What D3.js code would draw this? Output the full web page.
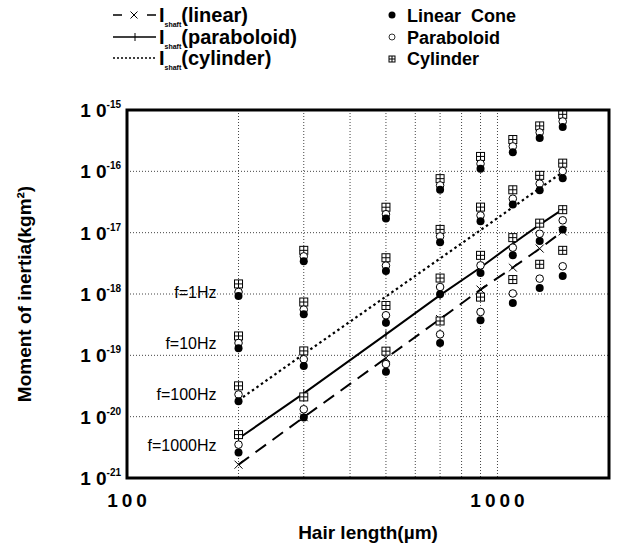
<html>
<head>
<script src="https://cdn.jsdelivr.net/npm/d3@7"></script>
<style>
  body { margin: 0; background: #fff; }
  text { font-family: "Liberation Sans", Arial, Helvetica, sans-serif; }
</style>
</head>
<body>
<script>
var width = 618, height = 547;
var margin = {top: 110, right: 9, bottom: 69, left: 127};

// hair length (um)
var hairLength = [200, 300, 500, 700, 900, 1100, 1300, 1500];
var freqLabels = ["f=1Hz", "f=10Hz", "f=100Hz", "f=1000Hz"];

// rows: f = 1, 10, 100, 1000 Hz
var cylinder = [
  [1.46e-18, 5.15e-18, 2.6e-17, 7.6e-17, 1.75e-16, 3.3e-16, 5.5e-16, 8.5e-16],
  [2.07e-19, 7.4e-19, 3.9e-18, 1.13e-17, 2.61e-17, 5.0e-17, 8.6e-17, 1.36e-16],
  [3.18e-20, 1.18e-19, 6.5e-19, 1.82e-18, 4.27e-18, 8.3e-18, 1.43e-17, 2.37e-17],
  [5.1e-21, 2.1e-20, 1.17e-19, 3.63e-19, 8.9e-19, 1.72e-18, 3.05e-18, 5.15e-18]
];
var paraboloid = [
  [1.08e-18, 4.11e-18, 2.0e-17, 5.9e-17, 1.33e-16, 2.55e-16, 4.3e-16, 6.5e-16],
  [1.59e-19, 5.57e-19, 2.9e-18, 8.7e-18, 1.91e-17, 3.58e-17, 6.3e-17, 1.01e-16],
  [2.3e-20, 8.64e-20, 4.5e-19, 1.3e-18, 2.93e-18, 5.7e-18, 9.6e-18, 1.59e-17],
  [3.5e-21, 1.32e-20, 7.2e-20, 2.2e-19, 5.1e-19, 1.02e-18, 1.78e-18, 2.83e-18]
];
var linearCone = [
  [0.93e-18, 3.41e-18, 1.7e-17, 5.0e-17, 1.1e-16, 2.05e-16, 3.5e-16, 5.3e-16],
  [1.3e-19, 4.67e-19, 2.37e-18, 7.0e-18, 1.53e-17, 2.89e-17, 4.9e-17, 7.7e-17],
  [1.79e-20, 6.71e-20, 3.4e-19, 9.9e-19, 2.2e-18, 4.27e-18, 7.3e-18, 1.13e-17],
  [2.6e-21, 9.7e-21, 5.4e-20, 1.59e-19, 3.73e-19, 7.1e-19, 1.25e-18, 1.96e-18]
];

// I_shaft curves
var shaftLinear = [1.65e-21, 9.8e-21, 9.0e-20, 3.9e-19, 1.18e-18, 2.7e-18, 5.5e-18, 1.05e-17];
var shaftParaboloid = [4.4e-21, 2.4e-20, 2.2e-19, 9.6e-19, 2.7e-18, 6.6e-18, 1.35e-17, 2.4e-17];
var shaftCylinder = [1.85e-20, 1.05e-19, 9.1e-19, 3.8e-18, 1.1e-17, 2.6e-17, 5.3e-17, 9.7e-17];

var xTickValues = [100, 1000];
var xGridValues = [200, 300, 400, 500, 600, 700, 800, 900, 1000];
var yExponents = [-21, -20, -19, -18, -17, -16, -15];

const svg = d3.select("body").append("svg")
  .attr("width", width)
  .attr("height", height);

var xScale = d3.scaleLog()
  .domain([100, 2000])
  .range([margin.left, width - margin.right]);

var yScale = d3.scaleLog()
  .domain([1e-21, 1e-15])
  .range([height - margin.bottom, margin.top]);

var x0 = margin.left, x1 = width - margin.right;
var y0 = height - margin.bottom, y1 = margin.top;

// grid
var grid = svg.append("g")
  .attr("stroke", "#444")
  .attr("stroke-width", 1)
  .attr("stroke-dasharray", "1,2");

grid.selectAll("line.gx")
  .data(xGridValues)
  .join("line")
    .attr("class", "gx")
    .attr("x1", d => xScale(d)).attr("x2", d => xScale(d))
    .attr("y1", y1).attr("y2", y0);

grid.selectAll("line.gy")
  .data(yExponents.slice(1, -1))
  .join("line")
    .attr("class", "gy")
    .attr("x1", x0).attr("x2", x1)
    .attr("y1", d => yScale(Math.pow(10, d))).attr("y2", d => yScale(Math.pow(10, d)));

// shaft lines
var line = d3.line()
  .x((d, i) => xScale(hairLength[i]))
  .y(d => yScale(d));

svg.append("path")
  .attr("d", line(shaftCylinder))
  .attr("fill", "none").attr("stroke", "#000")
  .attr("stroke-width", 2.2).attr("stroke-dasharray", "2.5,3");

svg.append("path")
  .attr("d", line(shaftParaboloid))
  .attr("fill", "none").attr("stroke", "#000")
  .attr("stroke-width", 2);

svg.append("path")
  .attr("d", line(shaftLinear))
  .attr("fill", "none").attr("stroke", "#000")
  .attr("stroke-width", 2).attr("stroke-dasharray", "13,8");

// + ticks on paraboloid shaft line
svg.append("g").selectAll("line")
  .data(shaftParaboloid)
  .join("line")
    .attr("x1", (d, i) => xScale(hairLength[i])).attr("x2", (d, i) => xScale(hairLength[i]))
    .attr("y1", d => yScale(d) - 4).attr("y2", d => yScale(d) + 4)
    .attr("stroke", "#000").attr("stroke-width", 1);

// x marks on linear shaft line
function drawCross(g, cx, cy, r) {
  g.append("line").attr("x1", cx - r).attr("y1", cy - r).attr("x2", cx + r).attr("y2", cy + r);
  g.append("line").attr("x1", cx - r).attr("y1", cy + r).attr("x2", cx + r).attr("y2", cy - r);
}
var crosses = svg.append("g").attr("stroke", "#000").attr("stroke-width", 1);
shaftLinear.forEach((d, i) => drawCross(crosses, xScale(hairLength[i]), yScale(d), 4));

// markers
function drawBox(g, cx, cy, s) {
  g.append("rect").attr("x", cx - s / 2).attr("y", cy - s / 2)
    .attr("width", s).attr("height", s)
    .attr("fill", "#fff").attr("stroke", "#000").attr("stroke-width", 1);
  g.append("line").attr("x1", cx).attr("x2", cx).attr("y1", cy - s / 2).attr("y2", cy + s / 2)
    .attr("stroke", "#000").attr("stroke-width", 1);
  g.append("line").attr("x1", cx - s / 2).attr("x2", cx + s / 2).attr("y1", cy).attr("y2", cy)
    .attr("stroke", "#000").attr("stroke-width", 1);
}

var marks = svg.append("g");
cylinder.forEach(row => row.forEach((d, i) => drawBox(marks, xScale(hairLength[i]), yScale(d), 8)));

paraboloid.forEach(row => {
  marks.append("g").selectAll("circle")
    .data(row)
    .join("circle")
      .attr("cx", (d, i) => xScale(hairLength[i]))
      .attr("cy", d => yScale(d))
      .attr("r", 3.8)
      .attr("fill", "#fff").attr("stroke", "#000").attr("stroke-width", 1);
});

linearCone.forEach(row => {
  marks.append("g").selectAll("circle")
    .data(row)
    .join("circle")
      .attr("cx", (d, i) => xScale(hairLength[i]))
      .attr("cy", d => yScale(d))
      .attr("r", 4)
      .attr("fill", "#000");
});

// frequency labels
svg.append("g").selectAll("text")
  .data(freqLabels)
  .join("text")
    .attr("x", xScale(hairLength[0]) - 22)
    .attr("y", (d, i) => yScale(paraboloid[i][0]) + 6)
    .attr("text-anchor", "end")
    .attr("font-size", 16)
    .text(d => d);

// frame
svg.append("rect")
  .attr("x", x0).attr("y", y1)
  .attr("width", x1 - x0).attr("height", y0 - y1)
  .attr("fill", "none").attr("stroke", "#000").attr("stroke-width", 3);

// y tick labels
var yLab = svg.append("g").selectAll("text")
  .data(yExponents)
  .join("text")
    .attr("x", 121)
    .attr("y", d => yScale(Math.pow(10, d)) + 7)
    .attr("text-anchor", "end")
    .attr("font-size", 19)
    .attr("font-weight", "bold");
yLab.append("tspan").text("1 0");
yLab.append("tspan")
  .attr("font-size", 10).attr("dy", -9)
  .text(d => d);

// x tick labels
svg.append("g").selectAll("text")
  .data(xTickValues)
  .join("text")
    .attr("x", d => xScale(d) + 2)
    .attr("y", 507)
    .attr("text-anchor", "middle")
    .attr("font-size", 19)
    .attr("font-weight", "bold")
    .attr("letter-spacing", 4)
    .text(d => d);

// axis titles
svg.append("text")
  .attr("x", (x0 + x1) / 2)
  .attr("y", 539)
  .attr("text-anchor", "middle")
  .attr("font-size", 19)
  .attr("font-weight", "bold")
  .text("Hair  length(\u00b5m)");

svg.append("text")
  .attr("transform", "translate(31," + ((y0 + y1) / 2) + ") rotate(-90)")
  .attr("text-anchor", "middle")
  .attr("font-size", 19)
  .attr("font-weight", "bold")
  .text("Moment of inertia(kgm\u00b2)");

// legend (left)
var legendRows = [
  {name: "(linear)", dash: "9,8"},
  {name: "(paraboloid)", dash: null},
  {name: "(cylinder)", dash: "2,2"}
];
var legendY = [15, 37, 58];
var legL = svg.append("g");
legendRows.forEach((r, i) => {
  var ly = legendY[i];
  legL.append("line")
    .attr("x1", 113).attr("x2", 156).attr("y1", ly).attr("y2", ly)
    .attr("stroke", "#000")
    .attr("stroke-width", i == 2 ? 1.3 : 1.6)
    .attr("stroke-dasharray", r.dash);
  if (i == 0) {
    var cg = legL.append("g").attr("stroke", "#000").attr("stroke-width", 1);
    cg.append("rect").attr("x", 126).attr("y", ly - 4).attr("width", 16).attr("height", 8)
      .attr("fill", "#fff").attr("stroke", "none");
    drawCross(cg, 134, ly, 3.5);
  }
  if (i == 1) {
    legL.append("line").attr("x1", 135).attr("x2", 135).attr("y1", ly - 4).attr("y2", ly + 4)
      .attr("stroke", "#000").attr("stroke-width", 1);
  }
  var t = legL.append("text")
    .attr("x", 159).attr("y", ly + 7)
    .attr("font-size", 20).attr("font-weight", "bold");
  t.append("tspan").text("I");
  t.append("tspan").attr("font-size", 7).attr("dy", 5).text("shaft");
  t.append("tspan").attr("dy", -5).text(r.name);
});

// legend (right)
var legR = svg.append("g");
legR.append("circle").attr("cx", 392).attr("cy", 15).attr("r", 3.5).attr("fill", "#000");
legR.append("circle").attr("cx", 392).attr("cy", 37).attr("r", 3)
  .attr("fill", "#fff").attr("stroke", "#000").attr("stroke-width", 0.8);
drawBox(legR, 392, 59, 6);
var rightNames = ["Linear  Cone", "Paraboloid", "Cylinder"];
legR.selectAll("text")
  .data(rightNames)
  .join("text")
    .attr("x", 407)
    .attr("y", (d, i) => legendY[i] + 7)
    .attr("font-size", 18)
    .attr("font-weight", "bold")
    .attr("xml:space", "preserve")
    .style("white-space", "pre")
    .text(d => d);
</script>
</body>
</html>
